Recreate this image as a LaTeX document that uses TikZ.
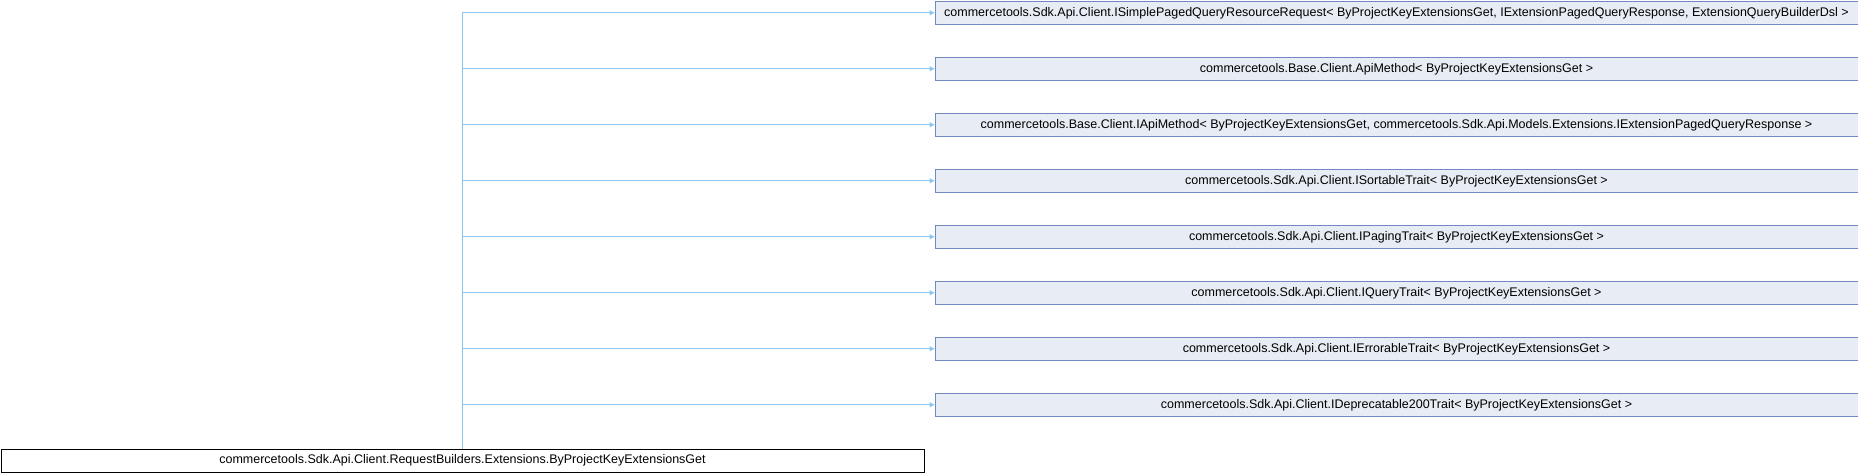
\documentclass[tikz,border=0pt]{standalone}
\usepackage{fontspec}
\setmainfont{Liberation Sans}
\usetikzlibrary{arrows.meta}
\definecolor{boxfill}{RGB}{232,236,245}
\definecolor{boxline}{RGB}{112,137,192}
\definecolor{edgecol}{RGB}{140,198,235}
\begin{document}
\begin{tikzpicture}[x=1pt,y=-1pt,
  parent/.style={draw=boxline,fill=boxfill,line width=1pt,minimum width=923pt,minimum height=23pt,inner sep=0pt,font=\fontsize{12.5pt}{14pt}\selectfont,anchor=north west},
  basebox/.style={draw=black,fill=white,line width=1pt,minimum width=923pt,minimum height=23pt,inner sep=0pt,font=\fontsize{12.5pt}{14pt}\selectfont,anchor=north west},
  edge/.style={draw=edgecol,line width=1pt,-{Triangle[length=5pt,width=5pt]}}]
\useasboundingbox (0,0) rectangle (1858,472);
\node[basebox] (base) at (0.5,448.5) {commercetools.Sdk.Api.Client.RequestBuilders.Extensions.ByProjectKeyExtensionsGet};
\node[parent] (p1) at (934.5,0.8) {commercetools.Sdk.Api.Client.ISimplePagedQueryResourceRequest< ByProjectKeyExtensionsGet, IExtensionPagedQueryResponse, ExtensionQueryBuilderDsl >};
\node[parent] (p2) at (934.5,56.8) {commercetools.Base.Client.ApiMethod< ByProjectKeyExtensionsGet >};
\node[parent] (p3) at (934.5,112.8) {commercetools.Base.Client.IApiMethod< ByProjectKeyExtensionsGet, commercetools.Sdk.Api.Models.Extensions.IExtensionPagedQueryResponse >};
\node[parent] (p4) at (934.5,168.8) {commercetools.Sdk.Api.Client.ISortableTrait< ByProjectKeyExtensionsGet >};
\node[parent] (p5) at (934.5,224.8) {commercetools.Sdk.Api.Client.IPagingTrait< ByProjectKeyExtensionsGet >};
\node[parent] (p6) at (934.5,280.8) {commercetools.Sdk.Api.Client.IQueryTrait< ByProjectKeyExtensionsGet >};
\node[parent] (p7) at (934.5,336.8) {commercetools.Sdk.Api.Client.IErrorableTrait< ByProjectKeyExtensionsGet >};
\node[parent] (p8) at (934.5,392.8) {commercetools.Sdk.Api.Client.IDeprecatable200Trait< ByProjectKeyExtensionsGet >};
\foreach \k in {1,...,8}{
  \draw[edge] (base.north) |- (p\k.west);
}
\end{tikzpicture}
\end{document}
